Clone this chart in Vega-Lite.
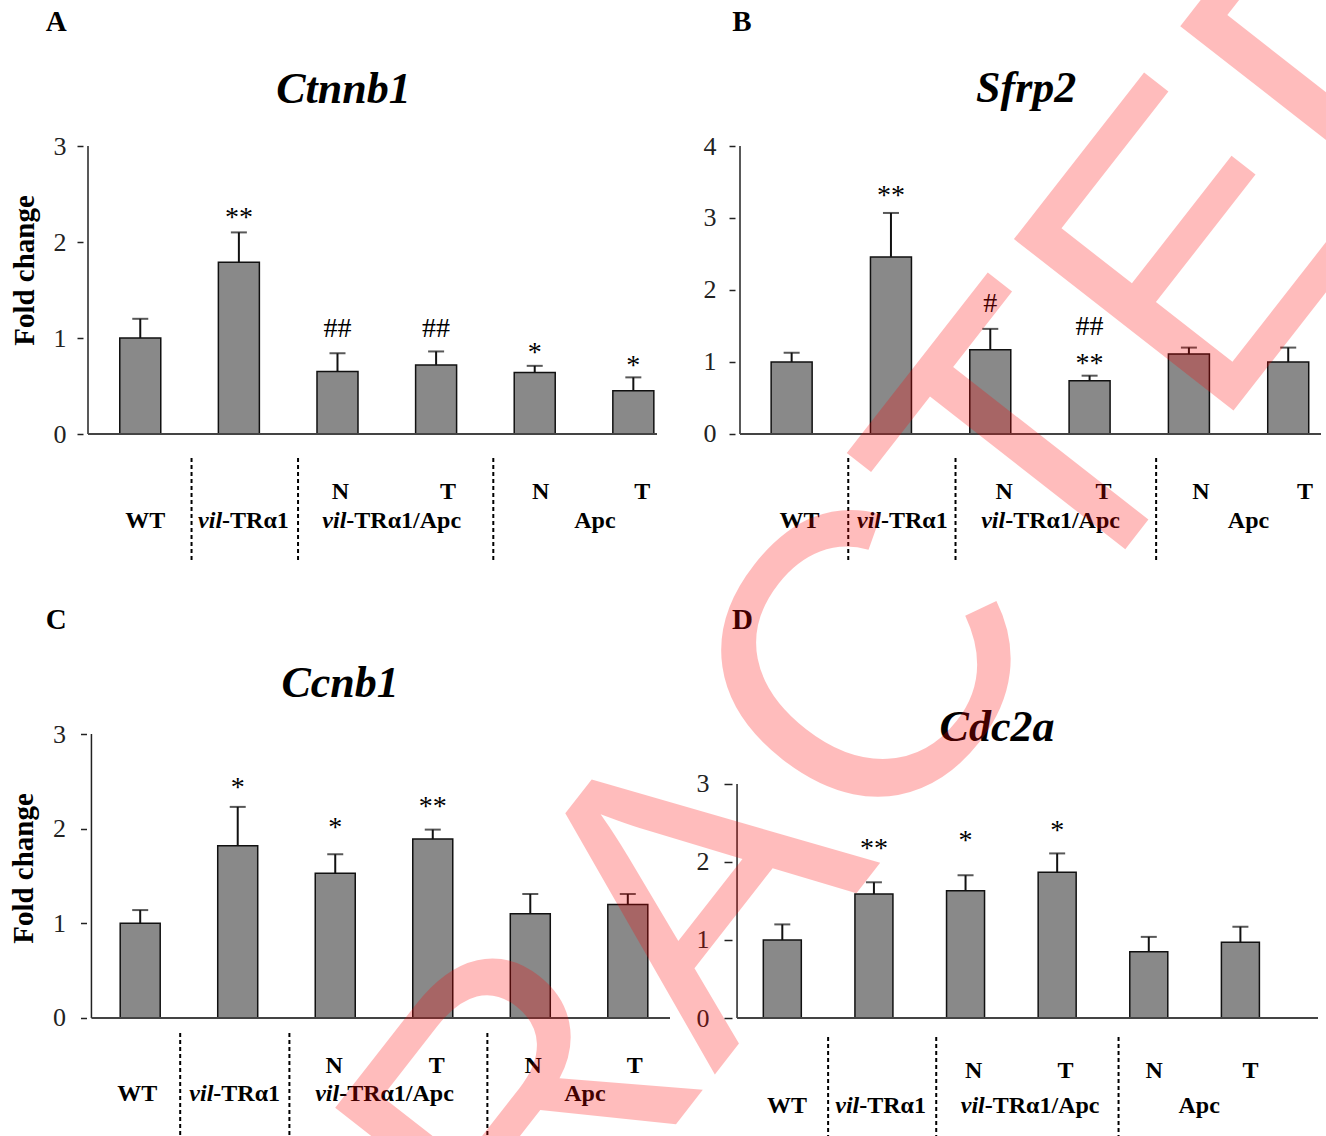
{
  "$schema": "https://vega.github.io/schema/vega-lite/v6.json",
  "autosize": {"type": "none"},
  "padding": {"left": 83, "top": 146, "right": 1243, "bottom": 990},
  "config": {
    "view": {"stroke": null},
    "text": {"font": "Liberation Serif", "color": "#000"},
    "axis": {"grid": false, "labelFont": "Liberation Serif", "labelFontSize": 26, "labelColor": "#222", "labelFlush": false, "labelOverlap": false, "tickWidth": 1.5, "tickColor": "#222", "titleFont": "Liberation Serif", "titleFontSize": 29, "titleFontWeight": "bold", "titleColor": "#000"}
  },
  "datasets": {
    "bars": [
      {"panel": "A", "pos": 1, "mean": 1.0, "upper": 1.2},
      {"panel": "A", "pos": 2, "mean": 1.79, "upper": 2.1, "sig": "**", "sigY": 2.17},
      {"panel": "A", "pos": 3, "mean": 0.65, "upper": 0.84, "sig": "##", "sigY": 1.01},
      {"panel": "A", "pos": 4, "mean": 0.72, "upper": 0.86, "sig": "##", "sigY": 1.01},
      {"panel": "A", "pos": 5, "mean": 0.64, "upper": 0.71, "sig": "*", "sigY": 0.765},
      {"panel": "A", "pos": 6, "mean": 0.45, "upper": 0.59, "sig": "*", "sigY": 0.63},
      {"panel": "B", "pos": 1, "mean": 1.0, "upper": 1.13},
      {"panel": "B", "pos": 2, "mean": 2.46, "upper": 3.07, "sig": "**", "sigY": 3.2},
      {"panel": "B", "pos": 3, "mean": 1.17, "upper": 1.46, "sig": "#", "sigY": 1.69},
      {"panel": "B", "pos": 4, "mean": 0.74, "upper": 0.81, "sig": "**", "sigY": 0.867, "sig2": "##", "sig2Y": 1.375},
      {"panel": "B", "pos": 5, "mean": 1.11, "upper": 1.2},
      {"panel": "B", "pos": 6, "mean": 1.0, "upper": 1.2},
      {"panel": "C", "pos": 1, "mean": 1.0, "upper": 1.14},
      {"panel": "C", "pos": 2, "mean": 1.82, "upper": 2.23, "sig": "*", "sigY": 2.34},
      {"panel": "C", "pos": 3, "mean": 1.53, "upper": 1.73, "sig": "*", "sigY": 1.92},
      {"panel": "C", "pos": 4, "mean": 1.89, "upper": 1.99, "sig": "**", "sigY": 2.14},
      {"panel": "C", "pos": 5, "mean": 1.1, "upper": 1.31},
      {"panel": "C", "pos": 6, "mean": 1.2, "upper": 1.31},
      {"panel": "D", "pos": 1, "mean": 1.0, "upper": 1.2},
      {"panel": "D", "pos": 2, "mean": 1.59, "upper": 1.74, "sig": "**", "sigY": 2.07},
      {"panel": "D", "pos": 3, "mean": 1.63, "upper": 1.83, "sig": "*", "sigY": 2.17},
      {"panel": "D", "pos": 4, "mean": 1.87, "upper": 2.11, "sig": "*", "sigY": 2.3},
      {"panel": "D", "pos": 5, "mean": 0.85, "upper": 1.04},
      {"panel": "D", "pos": 6, "mean": 0.97, "upper": 1.17}
    ],
    "labels": [
      {"panel": "A", "kind": "sep", "pos": 1.52},
      {"panel": "A", "kind": "sep", "pos": 2.6},
      {"panel": "A", "kind": "sep", "pos": 4.58},
      {"panel": "A", "kind": "c", "pos": 1.05, "level": 2, "text": "WT"},
      {"panel": "A", "kind": "i", "pos": 1.83, "level": 2, "text": "vil"},
      {"panel": "A", "kind": "r", "pos": 1.83, "level": 2, "text": "-TRα1"},
      {"panel": "A", "kind": "c", "pos": 3.03, "level": 1, "text": "N"},
      {"panel": "A", "kind": "c", "pos": 4.12, "level": 1, "text": "T"},
      {"panel": "A", "kind": "i", "pos": 3.09, "level": 2, "text": "vil"},
      {"panel": "A", "kind": "r", "pos": 3.09, "level": 2, "text": "-TRα1/Apc"},
      {"panel": "A", "kind": "c", "pos": 5.06, "level": 1, "text": "N"},
      {"panel": "A", "kind": "c", "pos": 6.09, "level": 1, "text": "T"},
      {"panel": "A", "kind": "c", "pos": 5.61, "level": 2, "text": "Apc"},
      {"panel": "B", "kind": "sep", "pos": 1.57},
      {"panel": "B", "kind": "sep", "pos": 2.65},
      {"panel": "B", "kind": "sep", "pos": 4.67},
      {"panel": "B", "kind": "c", "pos": 1.08, "level": 2, "text": "WT"},
      {"panel": "B", "kind": "i", "pos": 1.9, "level": 2, "text": "vil"},
      {"panel": "B", "kind": "r", "pos": 1.9, "level": 2, "text": "-TRα1"},
      {"panel": "B", "kind": "c", "pos": 3.14, "level": 1, "text": "N"},
      {"panel": "B", "kind": "c", "pos": 4.14, "level": 1, "text": "T"},
      {"panel": "B", "kind": "i", "pos": 3.15, "level": 2, "text": "vil"},
      {"panel": "B", "kind": "r", "pos": 3.15, "level": 2, "text": "-TRα1/Apc"},
      {"panel": "B", "kind": "c", "pos": 5.12, "level": 1, "text": "N"},
      {"panel": "B", "kind": "c", "pos": 6.17, "level": 1, "text": "T"},
      {"panel": "B", "kind": "c", "pos": 5.6, "level": 2, "text": "Apc"},
      {"panel": "C", "kind": "sep", "pos": 1.41},
      {"panel": "C", "kind": "sep", "pos": 2.53},
      {"panel": "C", "kind": "sep", "pos": 4.56},
      {"panel": "C", "kind": "c", "pos": 0.97, "level": 2, "text": "WT"},
      {"panel": "C", "kind": "i", "pos": 1.75, "level": 2, "text": "vil"},
      {"panel": "C", "kind": "r", "pos": 1.75, "level": 2, "text": "-TRα1"},
      {"panel": "C", "kind": "c", "pos": 2.99, "level": 1, "text": "N"},
      {"panel": "C", "kind": "c", "pos": 4.04, "level": 1, "text": "T"},
      {"panel": "C", "kind": "i", "pos": 3.04, "level": 2, "text": "vil"},
      {"panel": "C", "kind": "r", "pos": 3.04, "level": 2, "text": "-TRα1/Apc"},
      {"panel": "C", "kind": "c", "pos": 5.03, "level": 1, "text": "N"},
      {"panel": "C", "kind": "c", "pos": 6.07, "level": 1, "text": "T"},
      {"panel": "C", "kind": "c", "pos": 5.56, "level": 2, "text": "Apc"},
      {"panel": "D", "kind": "sep", "pos": 1.5},
      {"panel": "D", "kind": "sep", "pos": 2.68},
      {"panel": "D", "kind": "sep", "pos": 4.67},
      {"panel": "D", "kind": "c", "pos": 1.05, "level": 2, "text": "WT"},
      {"panel": "D", "kind": "i", "pos": 1.84, "level": 2, "text": "vil"},
      {"panel": "D", "kind": "r", "pos": 1.84, "level": 2, "text": "-TRα1"},
      {"panel": "D", "kind": "c", "pos": 3.09, "level": 1, "text": "N"},
      {"panel": "D", "kind": "c", "pos": 4.09, "level": 1, "text": "T"},
      {"panel": "D", "kind": "i", "pos": 3.21, "level": 2, "text": "vil"},
      {"panel": "D", "kind": "r", "pos": 3.21, "level": 2, "text": "-TRα1/Apc"},
      {"panel": "D", "kind": "c", "pos": 5.06, "level": 1, "text": "N"},
      {"panel": "D", "kind": "c", "pos": 6.11, "level": 1, "text": "T"},
      {"panel": "D", "kind": "c", "pos": 5.55, "level": 2, "text": "Apc"}
    ]
  },
  "columns": 2,
  "spacing": {"row": 172, "column": 60},
  "bounds": "flush",
  "concat": [
    {
      "width": 579, "height": 416,
      "resolve": {"scale": {"y": "independent"}},
      "layer": [
        {
          "data": {"name": "labels"},
          "transform": [{"filter": "datum.panel == 'A'"}],
          "layer": [
            {"transform": [{"filter": "datum.kind == 'sep'"}], "mark": {"type": "rule", "strokeDash": [4, 3], "strokeWidth": 2, "color": "#000"}, "encoding": {"x": {"field": "pos", "type": "quantitative", "scale": {"domain": [0.47, 6.24], "nice": false, "zero": false}, "axis": null}, "y": {"datum": -0.172, "type": "quantitative", "scale": {"domain": [-10.931, 3.414], "nice": false, "zero": false, "reverse": true}, "axis": null}, "y2": {"datum": 3.414}}},
            {"transform": [{"filter": "datum.kind == 'c'"}], "mark": {"type": "text", "fontWeight": "bold", "fontSize": 24, "align": "center", "baseline": "middle"}, "encoding": {"x": {"field": "pos", "type": "quantitative", "axis": null}, "y": {"field": "level", "type": "quantitative", "axis": null}, "text": {"field": "text"}}},
            {"transform": [{"filter": "datum.kind == 'i'"}], "mark": {"type": "text", "fontWeight": "bold", "fontStyle": "italic", "fontSize": 24, "align": "right", "baseline": "middle"}, "encoding": {"x": {"field": "pos", "type": "quantitative", "axis": null}, "y": {"field": "level", "type": "quantitative", "axis": null}, "text": {"field": "text"}}},
            {"transform": [{"filter": "datum.kind == 'r'"}], "mark": {"type": "text", "fontWeight": "bold", "fontSize": 24, "align": "left", "baseline": "middle"}, "encoding": {"x": {"field": "pos", "type": "quantitative", "axis": null}, "y": {"field": "level", "type": "quantitative", "axis": null}, "text": {"field": "text"}}}
          ]
        },
        {
          "data": {"name": "bars"},
          "transform": [{"filter": "datum.panel == 'A'"}],
          "encoding": {"x": {"field": "pos", "type": "quantitative", "scale": {"domain": [0.47, 6.24], "nice": false, "zero": false}, "axis": null}},
          "layer": [
            {"mark": {"type": "bar", "size": 41, "fill": "#898989", "stroke": "#111", "strokeWidth": 1.5}, "encoding": {"y": {"field": "mean", "type": "quantitative", "scale": {"domain": [-1.3333, 3], "nice": false, "zero": false}, "axis": {"orient": "left", "values": [0, 1, 2, 3], "format": "d", "domain": false, "title": "Fold change", "titleY": 124, "titlePadding": 14, "labelPadding": 11, "tickSize": 6}}}},
            {"mark": {"type": "rule", "strokeWidth": 2, "color": "#111"}, "encoding": {"y": {"field": "mean", "type": "quantitative"}, "y2": {"field": "upper"}}},
            {"mark": {"type": "tick", "orient": "horizontal", "size": 16, "thickness": 2, "color": "#111"}, "encoding": {"y": {"field": "upper", "type": "quantitative"}}},
            {"transform": [{"filter": "datum.sig"}], "mark": {"type": "text", "baseline": "alphabetic", "fontSize": 28}, "encoding": {"y": {"field": "sigY", "type": "quantitative"}, "text": {"field": "sig"}}},
            {"transform": [{"filter": "datum.pos == 1"}], "mark": {"type": "rule", "strokeWidth": 1.5, "color": "#222"}, "encoding": {"x": {"datum": 0.47, "type": "quantitative"}, "y": {"datum": 0, "type": "quantitative"}, "y2": {"datum": 3}}},
            {"transform": [{"filter": "datum.pos == 1"}], "mark": {"type": "rule", "strokeWidth": 2, "color": "#444"}, "encoding": {"x": {"datum": 0.47, "type": "quantitative"}, "x2": {"datum": 6.24}, "y": {"datum": 0, "type": "quantitative"}}},
            {"transform": [{"filter": "datum.pos == 1"}], "mark": {"type": "text", "fontSize": 44, "fontWeight": "bold", "fontStyle": "italic", "align": "center", "baseline": "alphabetic"}, "encoding": {"x": {"datum": 3.061, "type": "quantitative"}, "y": {"datum": 3.448, "type": "quantitative"}, "text": {"value": "Ctnnb1"}}},
            {"transform": [{"filter": "datum.pos == 1"}], "mark": {"type": "text", "fontSize": 29, "fontWeight": "bold", "align": "left", "baseline": "alphabetic"}, "encoding": {"x": {"datum": 0.0415, "type": "quantitative"}, "y": {"datum": 4.198, "type": "quantitative"}, "text": {"value": "A"}}}
          ]
        }
      ]
    },
    {
      "width": 591, "height": 416,
      "resolve": {"scale": {"y": "independent"}},
      "layer": [
        {
          "data": {"name": "labels"},
          "transform": [{"filter": "datum.panel == 'B'"}],
          "layer": [
            {"transform": [{"filter": "datum.kind == 'sep'"}], "mark": {"type": "rule", "strokeDash": [4, 3], "strokeWidth": 2, "color": "#000"}, "encoding": {"x": {"field": "pos", "type": "quantitative", "scale": {"domain": [0.48, 6.33], "nice": false, "zero": false}, "axis": null}, "y": {"datum": -0.172, "type": "quantitative", "scale": {"domain": [-10.931, 3.414], "nice": false, "zero": false, "reverse": true}, "axis": null}, "y2": {"datum": 3.414}}},
            {"transform": [{"filter": "datum.kind == 'c'"}], "mark": {"type": "text", "fontWeight": "bold", "fontSize": 24, "align": "center", "baseline": "middle"}, "encoding": {"x": {"field": "pos", "type": "quantitative", "axis": null}, "y": {"field": "level", "type": "quantitative", "axis": null}, "text": {"field": "text"}}},
            {"transform": [{"filter": "datum.kind == 'i'"}], "mark": {"type": "text", "fontWeight": "bold", "fontStyle": "italic", "fontSize": 24, "align": "right", "baseline": "middle"}, "encoding": {"x": {"field": "pos", "type": "quantitative", "axis": null}, "y": {"field": "level", "type": "quantitative", "axis": null}, "text": {"field": "text"}}},
            {"transform": [{"filter": "datum.kind == 'r'"}], "mark": {"type": "text", "fontWeight": "bold", "fontSize": 24, "align": "left", "baseline": "middle"}, "encoding": {"x": {"field": "pos", "type": "quantitative", "axis": null}, "y": {"field": "level", "type": "quantitative", "axis": null}, "text": {"field": "text"}}}
          ]
        },
        {
          "data": {"name": "bars"},
          "transform": [{"filter": "datum.panel == 'B'"}],
          "encoding": {"x": {"field": "pos", "type": "quantitative", "scale": {"domain": [0.48, 6.33], "nice": false, "zero": false}, "axis": null}},
          "layer": [
            {"mark": {"type": "bar", "size": 41, "fill": "#898989", "stroke": "#111", "strokeWidth": 1.5}, "encoding": {"y": {"field": "mean", "type": "quantitative", "scale": {"domain": [-1.7778, 4], "nice": false, "zero": false}, "axis": {"orient": "left", "values": [0, 1, 2, 3, 4], "format": "d", "domain": false, "title": null, "labelPadding": 13, "tickSize": 6}}}},
            {"mark": {"type": "rule", "strokeWidth": 2, "color": "#111"}, "encoding": {"y": {"field": "mean", "type": "quantitative"}, "y2": {"field": "upper"}}},
            {"mark": {"type": "tick", "orient": "horizontal", "size": 16, "thickness": 2, "color": "#111"}, "encoding": {"y": {"field": "upper", "type": "quantitative"}}},
            {"transform": [{"filter": "datum.sig"}], "mark": {"type": "text", "baseline": "alphabetic", "fontSize": 28}, "encoding": {"y": {"field": "sigY", "type": "quantitative"}, "text": {"field": "sig"}}},
            {"transform": [{"filter": "datum.sig2"}], "mark": {"type": "text", "baseline": "alphabetic", "fontSize": 28}, "encoding": {"y": {"field": "sig2Y", "type": "quantitative"}, "text": {"field": "sig2"}}},
            {"transform": [{"filter": "datum.pos == 1"}], "mark": {"type": "rule", "strokeWidth": 1.5, "color": "#222"}, "encoding": {"x": {"datum": 0.48, "type": "quantitative"}, "y": {"datum": 0, "type": "quantitative"}, "y2": {"datum": 4}}},
            {"transform": [{"filter": "datum.pos == 1"}], "mark": {"type": "rule", "strokeWidth": 2, "color": "#444"}, "encoding": {"x": {"datum": 0.48, "type": "quantitative"}, "x2": {"datum": 6.33}, "y": {"datum": 0, "type": "quantitative"}}},
            {"transform": [{"filter": "datum.pos == 1"}], "mark": {"type": "text", "fontSize": 44, "fontWeight": "bold", "fontStyle": "italic", "align": "center", "baseline": "alphabetic"}, "encoding": {"x": {"datum": 3.361, "type": "quantitative"}, "y": {"datum": 4.611, "type": "quantitative"}, "text": {"value": "Sfrp2"}}},
            {"transform": [{"filter": "datum.pos == 1"}], "mark": {"type": "text", "fontSize": 29, "fontWeight": "bold", "align": "left", "baseline": "alphabetic"}, "encoding": {"x": {"datum": 0.401, "type": "quantitative"}, "y": {"datum": 5.597, "type": "quantitative"}, "text": {"value": "B"}}}
          ]
        }
      ]
    },
    {
      "width": 592, "height": 402,
      "resolve": {"scale": {"y": "independent"}},
      "layer": [
        {
          "data": {"name": "labels"},
          "transform": [{"filter": "datum.panel == 'C'"}],
          "layer": [
            {"transform": [{"filter": "datum.kind == 'sep'"}], "mark": {"type": "rule", "strokeDash": [4, 3], "strokeWidth": 2, "color": "#000"}, "encoding": {"x": {"field": "pos", "type": "quantitative", "scale": {"domain": [0.4647, 6.4327], "nice": false, "zero": false}, "axis": null}, "y": {"datum": -0.179, "type": "quantitative", "scale": {"domain": [-10.857, 3.5], "nice": false, "zero": false, "reverse": true}, "axis": null}, "y2": {"datum": 3.5}}},
            {"transform": [{"filter": "datum.kind == 'c'"}], "mark": {"type": "text", "fontWeight": "bold", "fontSize": 24, "align": "center", "baseline": "middle"}, "encoding": {"x": {"field": "pos", "type": "quantitative", "axis": null}, "y": {"field": "level", "type": "quantitative", "axis": null}, "text": {"field": "text"}}},
            {"transform": [{"filter": "datum.kind == 'i'"}], "mark": {"type": "text", "fontWeight": "bold", "fontStyle": "italic", "fontSize": 24, "align": "right", "baseline": "middle"}, "encoding": {"x": {"field": "pos", "type": "quantitative", "axis": null}, "y": {"field": "level", "type": "quantitative", "axis": null}, "text": {"field": "text"}}},
            {"transform": [{"filter": "datum.kind == 'r'"}], "mark": {"type": "text", "fontWeight": "bold", "fontSize": 24, "align": "left", "baseline": "middle"}, "encoding": {"x": {"field": "pos", "type": "quantitative", "axis": null}, "y": {"field": "level", "type": "quantitative", "axis": null}, "text": {"field": "text"}}}
          ]
        },
        {
          "data": {"name": "bars"},
          "transform": [{"filter": "datum.panel == 'C'"}],
          "encoding": {"x": {"field": "pos", "type": "quantitative", "scale": {"domain": [0.4647, 6.4327], "nice": false, "zero": false}, "axis": null}},
          "layer": [
            {"mark": {"type": "bar", "size": 40, "fill": "#898989", "stroke": "#111", "strokeWidth": 1.5}, "encoding": {"y": {"field": "mean", "type": "quantitative", "scale": {"domain": [-1.2465, 3], "nice": false, "zero": false}, "axis": {"orient": "left", "values": [0, 1, 2, 3], "format": "d", "domain": false, "offset": -3.5, "title": "Fold change", "titleY": 134, "titlePadding": 14, "labelPadding": 15, "tickSize": 6}}}},
            {"mark": {"type": "rule", "strokeWidth": 2, "color": "#111"}, "encoding": {"y": {"field": "mean", "type": "quantitative"}, "y2": {"field": "upper"}}},
            {"mark": {"type": "tick", "orient": "horizontal", "size": 16, "thickness": 2, "color": "#111"}, "encoding": {"y": {"field": "upper", "type": "quantitative"}}},
            {"transform": [{"filter": "datum.sig"}], "mark": {"type": "text", "baseline": "alphabetic", "fontSize": 28}, "encoding": {"y": {"field": "sigY", "type": "quantitative"}, "text": {"field": "sig"}}},
            {"transform": [{"filter": "datum.pos == 1"}], "mark": {"type": "rule", "strokeWidth": 1.5, "color": "#222"}, "encoding": {"x": {"datum": 0.5, "type": "quantitative"}, "y": {"datum": 0, "type": "quantitative"}, "y2": {"datum": 3}}},
            {"transform": [{"filter": "datum.pos == 1"}], "mark": {"type": "rule", "strokeWidth": 2, "color": "#444"}, "encoding": {"x": {"datum": 0.5, "type": "quantitative"}, "x2": {"datum": 6.4327}, "y": {"datum": 0, "type": "quantitative"}}},
            {"transform": [{"filter": "datum.pos == 1"}], "mark": {"type": "text", "fontSize": 44, "fontWeight": "bold", "fontStyle": "italic", "align": "center", "baseline": "alphabetic"}, "encoding": {"x": {"datum": 3.05, "type": "quantitative"}, "y": {"datum": 3.391, "type": "quantitative"}, "text": {"value": "Ccnb1"}}},
            {"transform": [{"filter": "datum.pos == 1"}], "mark": {"type": "text", "fontSize": 29, "fontWeight": "bold", "align": "left", "baseline": "alphabetic"}, "encoding": {"x": {"datum": 0.031, "type": "quantitative"}, "y": {"datum": 4.109, "type": "quantitative"}, "text": {"value": "C"}}}
          ]
        }
      ]
    },
    {
      "width": 588, "height": 402,
      "resolve": {"scale": {"y": "independent"}},
      "layer": [
        {
          "data": {"name": "labels"},
          "transform": [{"filter": "datum.panel == 'D'"}],
          "layer": [
            {"transform": [{"filter": "datum.kind == 'sep'"}], "mark": {"type": "rule", "strokeDash": [4, 3], "strokeWidth": 2, "color": "#000"}, "encoding": {"x": {"field": "pos", "type": "quantitative", "scale": {"domain": [0.5382, 6.847], "nice": false, "zero": false}, "axis": null}, "y": {"datum": 0.029, "type": "quantitative", "scale": {"domain": [-8.629, 2.857], "nice": false, "zero": false, "reverse": true}, "axis": null}, "y2": {"datum": 2.857}}},
            {"transform": [{"filter": "datum.kind == 'c'"}], "mark": {"type": "text", "fontWeight": "bold", "fontSize": 24, "align": "center", "baseline": "middle"}, "encoding": {"x": {"field": "pos", "type": "quantitative", "axis": null}, "y": {"field": "level", "type": "quantitative", "axis": null}, "text": {"field": "text"}}},
            {"transform": [{"filter": "datum.kind == 'i'"}], "mark": {"type": "text", "fontWeight": "bold", "fontStyle": "italic", "fontSize": 24, "align": "right", "baseline": "middle"}, "encoding": {"x": {"field": "pos", "type": "quantitative", "axis": null}, "y": {"field": "level", "type": "quantitative", "axis": null}, "text": {"field": "text"}}},
            {"transform": [{"filter": "datum.kind == 'r'"}], "mark": {"type": "text", "fontWeight": "bold", "fontSize": 24, "align": "left", "baseline": "middle"}, "encoding": {"x": {"field": "pos", "type": "quantitative", "axis": null}, "y": {"field": "level", "type": "quantitative", "axis": null}, "text": {"field": "text"}}}
          ]
        },
        {
          "data": {"name": "bars"},
          "transform": [{"filter": "datum.panel == 'D'"}],
          "encoding": {"x": {"field": "pos", "type": "quantitative", "scale": {"domain": [0.5382, 6.847], "nice": false, "zero": false}, "axis": null}},
          "layer": [
            {"mark": {"type": "bar", "size": 38, "fill": "#898989", "stroke": "#111", "strokeWidth": 1.5}, "encoding": {"y": {"field": "mean", "type": "quantitative", "scale": {"domain": [-1.5128, 3.641], "nice": false, "zero": false}, "axis": {"orient": "left", "values": [0, 1, 2, 3], "format": "d", "domain": false, "offset": 3, "title": null, "labelPadding": 15, "tickSize": 8}}}},
            {"mark": {"type": "rule", "strokeWidth": 2, "color": "#111"}, "encoding": {"y": {"field": "mean", "type": "quantitative"}, "y2": {"field": "upper"}}},
            {"mark": {"type": "tick", "orient": "horizontal", "size": 16, "thickness": 2, "color": "#111"}, "encoding": {"y": {"field": "upper", "type": "quantitative"}}},
            {"transform": [{"filter": "datum.sig"}], "mark": {"type": "text", "baseline": "alphabetic", "fontSize": 28}, "encoding": {"y": {"field": "sigY", "type": "quantitative"}, "text": {"field": "sig"}}},
            {"transform": [{"filter": "datum.pos == 1"}], "mark": {"type": "rule", "strokeWidth": 1.5, "color": "#222"}, "encoding": {"x": {"datum": 0.506, "type": "quantitative"}, "y": {"datum": 0, "type": "quantitative"}, "y2": {"datum": 3}}},
            {"transform": [{"filter": "datum.pos == 1"}], "mark": {"type": "rule", "strokeWidth": 2, "color": "#444"}, "encoding": {"x": {"datum": 0.506, "type": "quantitative"}, "x2": {"datum": 6.847}, "y": {"datum": 0, "type": "quantitative"}}},
            {"transform": [{"filter": "datum.pos == 1"}], "mark": {"type": "text", "fontSize": 44, "fontWeight": "bold", "fontStyle": "italic", "align": "center", "baseline": "alphabetic"}, "encoding": {"x": {"datum": 3.344, "type": "quantitative"}, "y": {"datum": 3.551, "type": "quantitative"}, "text": {"value": "Cdc2a"}}},
            {"transform": [{"filter": "datum.pos == 1"}], "mark": {"type": "text", "fontSize": 29, "fontWeight": "bold", "align": "left", "baseline": "alphabetic"}, "encoding": {"x": {"datum": 0.452, "type": "quantitative"}, "y": {"datum": 4.987, "type": "quantitative"}, "text": {"value": "D"}}},
            {"transform": [{"filter": "datum.pos == 1"}], "mark": {"type": "text", "font": "Liberation Sans", "fontSize": 405, "angle": -52, "align": "center", "baseline": "alphabetic", "color": "#ff0000", "opacity": 0.26}, "encoding": {"x": {"datum": 1.166, "type": "quantitative"}, "y": {"datum": 0.633, "type": "quantitative"}, "text": {"value": "RETRACTED"}}}
          ]
        }
      ]
    }
  ]
}
